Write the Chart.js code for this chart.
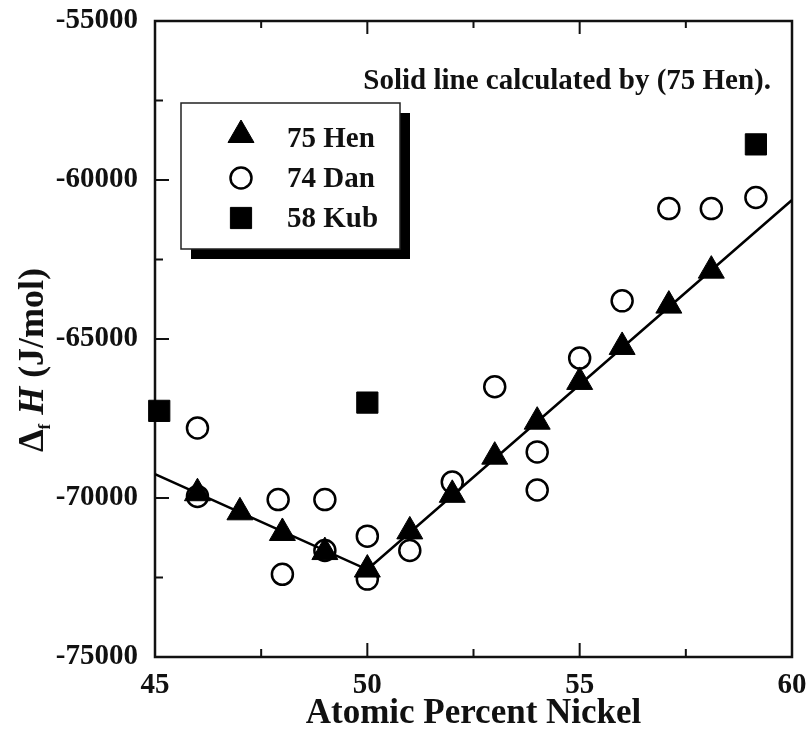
<!DOCTYPE html>
<html lang="en">

<head>
    <meta charset="UTF-8">
    <title>Enthalpy of formation vs. atomic percent nickel</title>
    <script src="https://cdn.jsdelivr.net/npm/chart.js"></script>
    <style>
        html, body { margin: 0; padding: 0; background: #fff; }
        #wrap { width: 808px; height: 740px; }
    </style>
</head>

<body>
    <div id="wrap">
        <canvas id="hChart" width="808" height="740"></canvas>
    </div>

    <script>
        // measured points, x = atomic % Ni, y = ΔfH in J/mol
        const henX = [46, 47, 48, 49, 50, 51, 52, 53, 54, 55, 56, 57.1, 58.1];
        const henY = [-69850, -70450, -71100, -71700, -72250, -71050, -69900, -68700, -67600, -66350, -65250, -63950, -62850];

        const danX = [46, 46, 47.9, 48, 49, 49, 50, 50, 51, 52, 53, 54, 54, 55, 56, 57.1, 58.1, 59.15];
        const danY = [-67800, -69950, -70050, -72400, -70050, -71650, -71200, -72550, -71650, -69500, -66500, -68550, -69750, -65600, -63800, -60900, -60900, -60550];

        const kubX = [45.1, 50, 59.15];
        const kubY = [-67260, -67000, -58880];

        // calculated curve (75 Hen)
        const calcX = [45, 50, 60];
        const calcY = [-69250, -72250, -60630];

        const xTicks = [45, 50, 55, 60];
        const yTicks = [-75000, -70000, -65000, -60000, -55000];
        const xMinor = [47.5, 52.5, 57.5];
        const yMinor = [-72500, -67500, -62500, -57500];

        const noteText = 'Solid line calculated by (75 Hen).';
        const SERIF = '"Liberation Serif", "Times New Roman", serif';
        const INK = '#111';

        const pts = (xs, ys) => xs.map((x, i) => ({ x: x, y: ys[i] }));

        // box, inward ticks on left/top/bottom
        const frameTicks = {
            id: 'frameTicks',
            beforeDatasetsDraw(chart) {
                const { ctx, chartArea: a, scales: { x, y } } = chart;
                ctx.save();
                ctx.strokeStyle = INK;
                ctx.lineWidth = 2.5;
                ctx.strokeRect(a.left, a.top, a.right - a.left, a.bottom - a.top);
                ctx.beginPath();
                const xIn = xTicks.slice(1, -1);
                const yIn = yTicks.slice(1, -1);
                xIn.forEach(v => {
                    const p = x.getPixelForValue(v);
                    ctx.moveTo(p, a.bottom); ctx.lineTo(p, a.bottom - 14);
                    ctx.moveTo(p, a.top); ctx.lineTo(p, a.top + 13);
                });
                xMinor.forEach(v => {
                    const p = x.getPixelForValue(v);
                    ctx.moveTo(p, a.bottom); ctx.lineTo(p, a.bottom - 8);
                    ctx.moveTo(p, a.top); ctx.lineTo(p, a.top + 7);
                });
                yIn.forEach(v => {
                    const p = y.getPixelForValue(v);
                    ctx.moveTo(a.left, p); ctx.lineTo(a.left + 14, p);
                });
                yMinor.forEach(v => {
                    const p = y.getPixelForValue(v);
                    ctx.moveTo(a.left, p); ctx.lineTo(a.left + 8, p);
                });
                ctx.lineWidth = 2;
                ctx.stroke();
                ctx.restore();
            }
        };

        // legend box with drop shadow, note text, and the y title with sub/italic
        const extras = {
            id: 'extras',
            afterDraw(chart) {
                const { ctx } = chart;
                ctx.save();

                // legend
                const bx = 181, by = 103, bw = 219, bh = 146, sh = 10;
                ctx.fillStyle = '#000';
                ctx.fillRect(bx + sh, by + sh, bw, bh);
                ctx.fillStyle = '#fff';
                ctx.fillRect(bx, by, bw, bh);
                ctx.strokeStyle = '#222';
                ctx.lineWidth = 1.5;
                ctx.strokeRect(bx, by, bw, bh);

                ctx.font = 'bold 29px ' + SERIF;
                ctx.textBaseline = 'alphabetic';
                ctx.textAlign = 'left';
                const rows = [{ cy: 135, base: 147 }, { cy: 178, base: 187 }, { cy: 218, base: 227 }];
                chart.data.datasets.slice(0, 3).forEach((ds, i) => {
                    ctx.fillStyle = ds.backgroundColor;
                    ctx.strokeStyle = ds.borderColor;
                    ctx.lineWidth = ds.borderWidth;
                    Chart.helpers.drawPoint(ctx, {
                        pointStyle: ds.pointStyle,
                        radius: ds.pointRadius,
                        borderWidth: ds.borderWidth,
                        rotation: 0
                    }, 241, rows[i].cy);
                    ctx.fillStyle = INK;
                    ctx.fillText(ds.label, 287, rows[i].base);
                });

                // note in the upper right
                ctx.fillStyle = INK;
                ctx.textAlign = 'right';
                ctx.fillText(noteText, 771, 89);

                // y-axis title: Δ_f H (J/mol)
                const parts = [
                    { t: 'Δ', f: 'bold 36px ' + SERIF, dy: 0 },
                    { t: 'f', f: 'bold 17px ' + SERIF, dy: 7 },
                    { t: ' H', f: 'italic bold 36px ' + SERIF, dy: 0 },
                    { t: ' (J/mol)', f: 'bold 36px ' + SERIF, dy: 0 }
                ];
                let total = 0;
                parts.forEach(p => { ctx.font = p.f; p.w = ctx.measureText(p.t).width; total += p.w; });
                ctx.translate(43, 360);
                ctx.rotate(-Math.PI / 2);
                ctx.textAlign = 'left';
                let cx = -total / 2;
                parts.forEach(p => {
                    ctx.font = p.f;
                    ctx.fillText(p.t, cx, p.dy);
                    cx += p.w;
                });
                ctx.restore();
            }
        };

        const tickFont = { family: SERIF, size: 29, weight: 'bold' };

        new Chart(document.getElementById('hChart'), {
            type: 'scatter',
            data: {
                datasets: [
                    {
                        label: '75 Hen',
                        data: pts(henX, henY),
                        pointStyle: 'triangle',
                        pointRadius: 15,
                        backgroundColor: '#000',
                        borderColor: '#000',
                        borderWidth: 1,
                        clip: false
                    },
                    {
                        label: '74 Dan',
                        data: pts(danX, danY),
                        pointStyle: 'circle',
                        pointRadius: 10.5,
                        backgroundColor: 'rgba(0,0,0,0)',
                        borderColor: '#000',
                        borderWidth: 2.5,
                        clip: false
                    },
                    {
                        label: '58 Kub',
                        data: pts(kubX, kubY),
                        pointStyle: 'rect',
                        pointRadius: 15,
                        backgroundColor: '#000',
                        borderColor: '#000',
                        borderWidth: 1,
                        clip: false
                    },
                    {
                        label: 'calc',
                        type: 'line',
                        data: pts(calcX, calcY),
                        showLine: true,
                        pointRadius: 0,
                        borderColor: '#000',
                        borderWidth: 2.5,
                        tension: 0,
                        fill: false
                    }
                ]
            },
            options: {
                responsive: false,
                animation: false,
                events: [],
                layout: { autoPadding: false, padding: { top: 21, right: 16, left: 0, bottom: 0 } },
                plugins: { legend: { display: false }, tooltip: { enabled: false } },
                scales: {
                    x: {
                        type: 'linear',
                        min: 45,
                        max: 60,
                        afterBuildTicks: s => { s.ticks = xTicks.map(v => ({ value: v })); },
                        afterFit: s => { s.height = 83; s.paddingLeft = 0; s.paddingRight = 0; },
                        grid: { display: false },
                        border: { display: false },
                        ticks: { font: tickFont, color: INK, padding: 3, autoSkip: false, maxRotation: 0 },
                        title: {
                            display: true,
                            text: 'Atomic Percent Nickel',
                            font: { family: SERIF, size: 35, weight: 'bold' },
                            color: INK,
                            padding: { top: 0, bottom: 5 }
                        }
                    },
                    y: {
                        type: 'linear',
                        min: -75000,
                        max: -55000,
                        afterBuildTicks: s => { s.ticks = yTicks.map(v => ({ value: v })); },
                        afterFit: s => { s.width = 155; s.paddingTop = 0; s.paddingBottom = 0; },
                        grid: { display: false },
                        border: { display: false },
                        ticks: { font: tickFont, color: INK, padding: 9, autoSkip: false, callback: v => String(v) }
                    }
                }
            },
            plugins: [frameTicks, extras]
        });
    </script>
</body>

</html>
